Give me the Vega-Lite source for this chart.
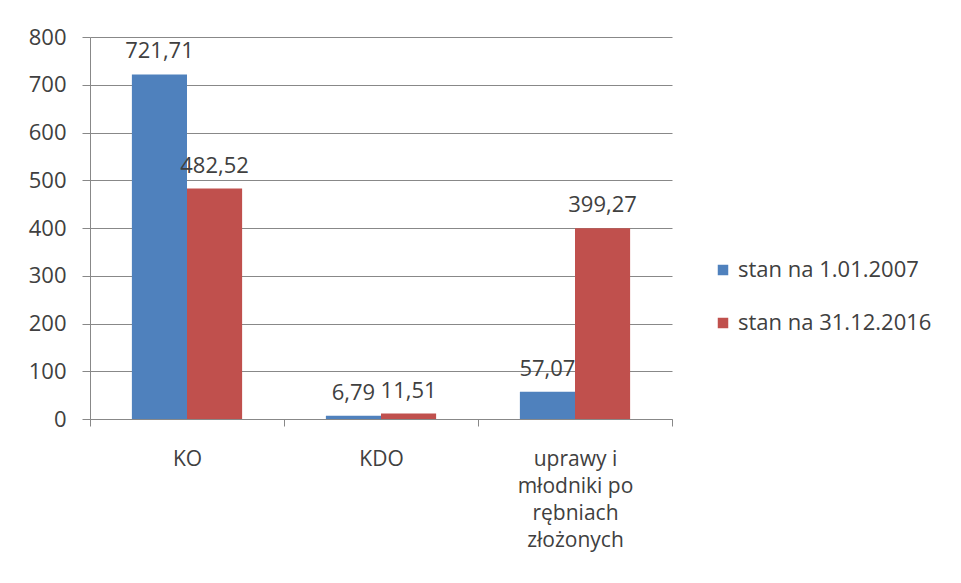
{
  "$schema": "https://vega.github.io/schema/vega-lite/v6.json",
  "width": 582,
  "height": 382,
  "autosize": "none",
  "padding": {"left": 90, "top": 37, "right": 289, "bottom": 164},
  "background": "white",
  "config": {
    "view": {"stroke": null},
    "font": "Open Sans",
    "locale": {"number": {"decimal": ",", "thousands": " ", "grouping": [3], "currency": ["", " zł"]}}
  },
  "data": {
    "values": [
      {"kategoria": "KO", "seria": "stan na 1.01.2007", "wartosc": 721.71},
      {"kategoria": "KO", "seria": "stan na 31.12.2016", "wartosc": 482.52},
      {"kategoria": "KDO", "seria": "stan na 1.01.2007", "wartosc": 6.79},
      {"kategoria": "KDO", "seria": "stan na 31.12.2016", "wartosc": 11.51},
      {"kategoria": "uprawy i młodniki po rębniach złożonych", "seria": "stan na 1.01.2007", "wartosc": 57.07},
      {"kategoria": "uprawy i młodniki po rębniach złożonych", "seria": "stan na 31.12.2016", "wartosc": 399.27}
    ]
  },
  "encoding": {
    "x": {
      "field": "kategoria", "type": "nominal", "sort": null,
      "scale": {"paddingInner": 0, "paddingOuter": 0},
      "axis": {
        "title": null, "labelAngle": 0, "labelFontSize": 21, "labelColor": "#404040",
        "labelExpr": "datum.value == 'uprawy i młodniki po rębniach złożonych' ? ['uprawy i', 'młodniki po', 'rębniach', 'złożonych'] : datum.value",
        "labelLineHeight": 27, "labelPadding": 22, "labelBaseline": "top",
        "tickBand": "extent", "tickSize": 7, "tickColor": "#888888", "domainColor": "#888888",
        "labelLimit": 300
      }
    },
    "xOffset": {"field": "seria", "type": "nominal", "scale": {"paddingOuter": 0.76, "paddingInner": 0}},
    "y": {
      "field": "wartosc", "type": "quantitative",
      "scale": {"domain": [0, 800], "nice": false},
      "axis": {
        "title": null, "values": [0, 100, 200, 300, 400, 500, 600, 700, 800],
        "labelFontSize": 22, "labelColor": "#404040", "labelPadding": 16,
        "tickSize": 8, "tickColor": "#888888", "domainColor": "#888888",
        "gridColor": "#888888", "gridOpacity": 1
      }
    }
  },
  "layer": [
    {
      "mark": {"type": "bar"},
      "encoding": {
        "color": {
          "field": "seria", "type": "nominal",
          "scale": {"range": ["#4F81BD", "#C0504D"]},
          "legend": {
            "title": null, "orient": "none", "legendX": 622, "legendY": 222,
            "symbolType": "square", "symbolSize": 110, "symbolStrokeWidth": 0,
            "labelFontSize": 22, "labelColor": "#404040", "rowPadding": 31, "labelOffset": 4,
            "labelLimit": 300
          }
        }
      }
    },
    {
      "mark": {"type": "text", "baseline": "bottom", "dy": -11, "fontSize": 22, "color": "#404040"},
      "encoding": {
        "text": {"field": "wartosc", "type": "quantitative", "format": ".2f"}
      }
    }
  ]
}
